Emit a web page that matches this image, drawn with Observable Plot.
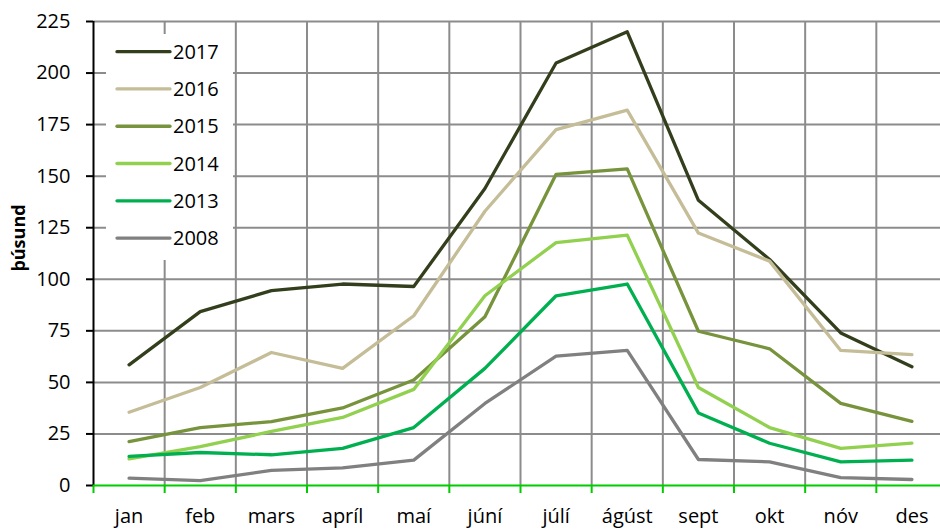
<!DOCTYPE html>
<html>
<head>
<meta charset="utf-8">
<script src="https://cdn.jsdelivr.net/npm/d3@7"></script>
<script src="https://cdn.jsdelivr.net/npm/@observablehq/plot@0.6"></script>
<style>
  html, body { margin: 0; padding: 0; background: #fff; overflow: hidden; }
  #chart { position: relative; width: 940px; height: 529px; overflow: hidden; }
  #chart svg.overlay { position: absolute; left: 0; top: 0; }
</style>
</head>
<body>
<div id="chart"></div>
<script>
const months = ["jan","feb","mars","apríl","maí","júní","júlí","ágúst","sept","okt","nóv","des"];
const years = ["2017","2016","2015","2014","2013","2008"];
const colors = ["#333f1c","#c4bd97","#77933c","#92d050","#00b050","#808080"];
const yTicks = [0,25,50,75,100,125,150,175,200,225];

const v2017 = [58.5, 84.3, 94.5, 97.7, 96.5, 144, 204.9, 220, 138.3, 109.6, 74, 57.6];
const v2016 = [35.5, 47.5, 64.5, 56.8, 82.3, 133, 172.6, 182, 122.4, 108.8, 65.5, 63.5];
const v2015 = [21.3, 28.1, 31.0, 37.6, 51.2, 81.8, 150.9, 153.5, 74.8, 66.3, 39.8, 31.1];
const v2014 = [12.9, 18.9, 26.2, 33.0, 46.6, 92.0, 117.8, 121.4, 47.5, 28.1, 18.0, 20.5];
const v2013 = [14.1, 16.0, 14.9, 18.0, 28.1, 56.8, 92.0, 97.7, 35.2, 20.5, 11.5, 12.3];
const v2008 = [3.6, 2.4, 7.3, 8.5, 12.3, 39.8, 62.7, 65.5, 12.6, 11.5, 3.8, 2.9];

const seriesValues = [v2017, v2016, v2015, v2014, v2013, v2008];
const data = years.flatMap((yr, s) => seriesValues[s].map((v, i) => ({year: yr, x: i + 0.5, v})));

const font = "'Open Sans', sans-serif";
const gridColor = "#8c8c8c";

const svg = Plot.plot({
  width: 940,
  height: 529,
  marginLeft: 93,
  marginRight: 0,
  marginTop: 21,
  marginBottom: 44,
  style: {fontFamily: font, fontSize: "20px", color: "#000", background: "#fff", overflow: "hidden"},
  x: {domain: [0, 12], range: [93, 947]},
  y: {domain: [0, 225]},
  color: {domain: years, range: colors},
  marks: [
    Plot.ruleY(yTicks.slice(1), {stroke: gridColor, strokeWidth: 2}),
    Plot.ruleX(d3.range(1, 12), {stroke: gridColor, strokeWidth: 2}),
    Plot.axisY(yTicks, {tickSize: 7, tickPadding: 16, stroke: "#000", strokeWidth: 2, label: null, fontSize: 20}),
    Plot.axisX(d3.range(0, 13), {tickSize: 8, tickFormat: () => "", stroke: "#00cc00", strokeWidth: 2, label: null}),
    Plot.axisX(months.map((m, i) => i + 0.5), {tickSize: 0, tickPadding: 23, tickFormat: d => months[Math.floor(d)], label: null, fontSize: 20}),
    Plot.ruleX([0], {stroke: "#000", strokeWidth: 2}),
    Plot.ruleY([0], {stroke: "#00cc00", strokeWidth: 2}),
    Plot.line(data, {x: "x", y: "v", z: "year", stroke: "year", strokeWidth: 3.3, strokeLinejoin: "round", strokeLinecap: "round"})
  ]
});

const chart = document.getElementById("chart");
chart.appendChild(svg);

// overlay: legend box inside the plot area and y-axis title
const ov = d3.select(chart).append("svg")
  .attr("class", "overlay")
  .attr("width", 940).attr("height", 529)
  .style("font-family", font);

ov.append("rect").attr("x", 106).attr("y", 34).attr("width", 127).attr("height", 226)
  .style("fill", "#ffffff");
years.forEach((yr, i) => {
  const cy = 51.7 + i * 37.27;
  ov.append("line").attr("x1", 117).attr("x2", 170).attr("y1", cy).attr("y2", cy)
    .style("stroke", colors[i]).style("stroke-width", 3.3).style("stroke-linecap", "round");
  ov.append("text").attr("x", 173).attr("y", cy).attr("dy", "0.36em")
    .style("text-anchor", "start").style("font-size", "20px").style("fill", "#000").text(yr);
});

ov.append("text")
  .attr("transform", "translate(19,238) rotate(-90)")
  .attr("dy", "0.36em")
  .style("text-anchor", "middle").style("font-size", "18px").style("font-weight", "bold").style("fill", "#000")
  .text("þúsund");
</script>
</body>
</html>
